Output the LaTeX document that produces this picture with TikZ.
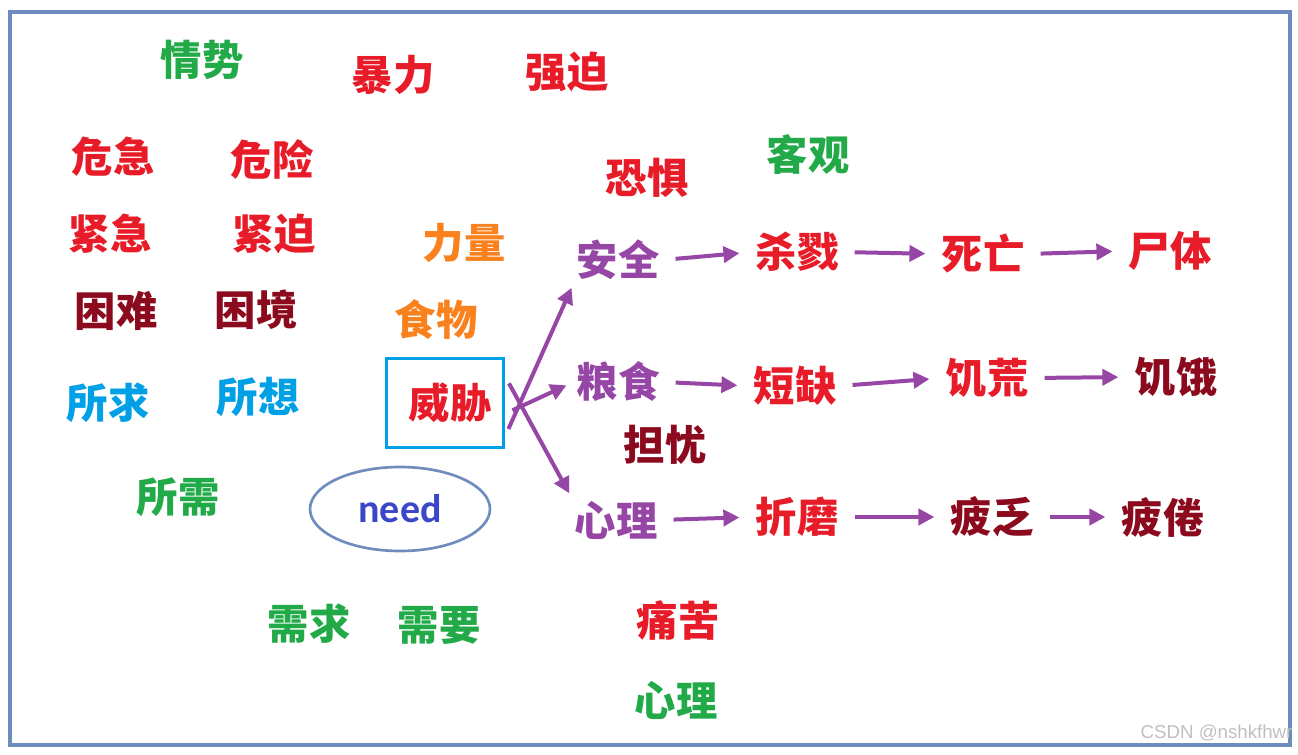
\documentclass[tikz,border=0pt]{standalone}
\usepackage{fontspec}
\newfontfamily\cjk{Noto Sans CJK SC}
\newfontfamily\carl{Carlito}
\usetikzlibrary{arrows.meta,shapes.geometric}
\definecolor{cR}{RGB}{232,28,40}
\definecolor{cG}{RGB}{34,170,72}
\definecolor{cD}{RGB}{140,10,30}
\definecolor{cO}{RGB}{250,130,30}
\definecolor{cB}{RGB}{0,160,230}
\definecolor{cP}{RGB}{150,70,165}
\definecolor{cN}{RGB}{60,70,200}
\definecolor{frame}{RGB}{110,140,190}
\tikzset{w/.style={font=\cjk\bfseries\fontsize{31}{31}\selectfont,inner sep=2pt},
 ar/.style={draw=cP,line width=3pt,-{Triangle[length=12pt,width=12pt]},shorten <=10pt,shorten >=10pt}}
\begin{document}
\begin{tikzpicture}[x=0.75pt,y=-0.75pt]
\useasboundingbox (0,0) rectangle (1298,755);
\draw[frame,line width=2.5pt] (10,12) rectangle (1290,745);
\node[w,cG] (a1) at (202,60) {情势};
\node[w,cR] (a2) at (393,75) {暴力};
\node[w,cR] (a3) at (567,72) {强迫};
\node[w,cR] (a4) at (113,157) {危急};
\node[w,cR] (a5) at (272,160) {危险};
\node[w,cR] (a6) at (647,178) {恐惧};
\node[w,cG] (a7) at (808,155) {客观};
\node[w,cR] (a8) at (110,234) {紧急};
\node[w,cR] (a9) at (274,234) {紧迫};
\node[w,cO] (a10) at (464,243) {力量};
\node[w,cD] (a11) at (116,311) {困难};
\node[w,cD] (a12) at (256,310) {困境};
\node[w,cO] (a13) at (436,320) {食物};
\node[w,cB] (a14) at (108,403) {所求};
\node[w,cB] (a15) at (258,397) {所想};
\node[w,cD] (a16) at (665,445) {担忧};
\node[w,cG] (a17) at (178,497) {所需};
\node[w,cG] (a18) at (309,624) {需求};
\node[w,cG] (a19) at (439,625) {需要};
\node[w,cR] (a20) at (678,620) {痛苦};
\node[w,cG] (a21) at (676,700) {心理};
\node[draw=cB,line width=2.2pt,minimum width=88pt,minimum height=67pt] (box) at (445,403) {};
\node[w,cR] (wx) at (450,403) {威胁};
\node[draw=frame,line width=2pt,ellipse,minimum width=135pt,minimum height=63pt,font=\carl\bfseries\fontsize{30}{30}\selectfont,text=cN] (need) at (400,509) {need};
\node[w,cP] (s1) at (618,260) {安全};
\node[w,cR] (s2) at (797,252) {杀戮};
\node[w,cR] (s3) at (983,254) {死亡};
\node[w,cR] (s4) at (1170,251) {尸体};
\node[w,cP] (l1) at (618,382) {粮食};
\node[w,cR] (l2) at (795,386) {短缺};
\node[w,cR] (l3) at (987,378) {饥荒};
\node[w,cD] (l4) at (1176,377) {饥饿};
\node[w,cP] (x1) at (616,520) {心理};
\node[w,cR] (x2) at (797,517) {折磨};
\node[w,cD] (x3) at (992,517) {疲乏};
\node[w,cD] (x4) at (1163,517) {疲倦};
\draw[ar,shorten <=6pt,shorten >=4pt] ([yshift=-25]box.east) -- (s1.south west);
\draw[ar,shorten <=6pt,shorten >=6pt] ([yshift=-8]box.east) -- (l1.west);
\draw[ar,shorten <=6pt,shorten >=4pt] ([yshift=20]box.east) -- (x1.north west);
\draw[ar] (s1.east) -- (s2.west);
\draw[ar] (s2.east) -- (s3.west);
\draw[ar] (s3.east) -- (s4.west);
\draw[ar] (l1.east) -- (l2.west);
\draw[ar] (l2.east) -- (l3.west);
\draw[ar] (l3.east) -- (l4.west);
\draw[ar] (x1.east) -- (x2.west);
\draw[ar] (x2.east) -- (x3.west);
\draw[ar] (x3.east) -- (x4.west);
\node[anchor=west,text=black!25,font=\fontspec{Liberation Sans}\fontsize{14}{14}\selectfont] (wm) at (1136,733) {CSDN @nshkfhwr};
\end{tikzpicture}
\end{document}
